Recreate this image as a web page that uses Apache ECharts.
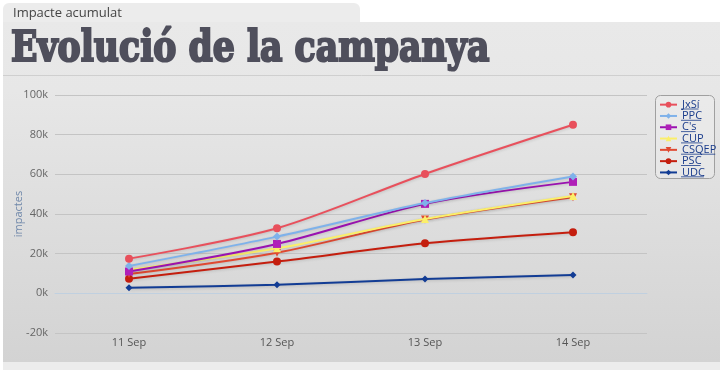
<!DOCTYPE html>
<html>
<head>
<meta charset="utf-8">
<script src="https://cdn.jsdelivr.net/npm/echarts@6/dist/echarts.min.js"></script>
<style>
html,body{margin:0;padding:0;background:#fff;}
#c{width:722px;height:370px;}
</style>
</head>
<body>
<div id="c"></div>
<script>
const categories = ['11 Sep', '12 Sep', '13 Sep', '14 Sep'];
const seriesNames = ['JxSí', 'PPC', "C's", 'CUP', 'CSQEP', 'PSC', 'UDC'];
const JxSi  = [17500, 32800, 60200, 85000];
const PPC   = [13800, 28600, 45500, 58900];
const Cs    = [11000, 24900, 45100, 56200];
const CUP   = [11800, 22700, 37500, 49100];
const CSQEP = [9700, 20500, 37200, 48500];
const PSC   = [7400, 16000, 25200, 30800];
const UDC   = [2800, 4300, 7200, 9200];
const yTicks = [-20000, 0, 20000, 40000, 60000, 80000, 100000];

const seriesData = [JxSi, PPC, Cs, CUP, CSQEP, PSC, UDC];
const colors = ['#e8505c', '#7fb2ea', '#9a12b0', '#fbef6a', '#e04a32', '#c41e0e', '#123c94'];
const markerColors = ['#e8505c', '#7fb2ea', '#b020b8', '#fbef6a', '#e04a32', '#c41e0e', '#123c94'];
const symbols = ['circle', 'diamond', 'rect', 'triangle', 'path://M0,0 L10,0 L5,10 Z', 'circle', 'diamond'];
const symbolSizes = [8, 8, 8, 8, 8, 8, 7];

const chart = echarts.init(document.getElementById('c'), null, {renderer: 'canvas'});

const series = seriesNames.map((n, i) => ({
  name: n,
  type: 'line',
  data: seriesData[i],
  smooth: 0.3,
  symbol: symbols[i],
  symbolSize: symbolSizes[i],
  showSymbol: true,
  lineStyle: {color: colors[i], width: 2, shadowColor: 'rgba(0,0,0,0.15)', shadowBlur: 3, shadowOffsetY: 1},
  itemStyle: {color: markerColors[i]},
  emphasis: {disabled: true},
  z: 10 - i
}));

const ctx = document.createElement('canvas').getContext('2d');
ctx.font = '11px "Open Sans", sans-serif';
const legendTextX = 681, legendTop0 = 99, legendStep = 11.3;
const underlines = seriesNames.map((n, i) => {
  const y = legendTop0 + i * legendStep + 10;
  return {
    type: 'line',
    shape: {x1: legendTextX, y1: y, x2: legendTextX + ctx.measureText(n).width, y2: y},
    style: {stroke: '#1a3c8c', lineWidth: 0.8},
    z: 100
  };
});

const titleText = 'Evolució de la campanya';
ctx.font = 'bold 42px "DejaVu Serif"';
const titleScale = 480 / (ctx.measureText(titleText).width + 2);

chart.setOption({
  animation: false,
  color: colors,
  graphic: [
    {type: 'rect', shape: {x: 3, y: 3, width: 357, height: 30, r: 6}, style: {fill: '#ececec'}, z: -10},
    {type: 'rect', shape: {x: 3, y: 22, width: 717, height: 340},
      style: {fill: new echarts.graphic.LinearGradient(0, 0, 0, 1, [
        {offset: 0, color: '#e9e9e9'}, {offset: 0.2, color: '#e7e7e7'}, {offset: 1, color: '#d3d3d3'}])}, z: -10},
    {type: 'line', shape: {x1: 3, y1: 75.5, x2: 720, y2: 75.5}, style: {stroke: '#cfcfcf', lineWidth: 1}, z: -9},
    {type: 'rect', shape: {x: 3, y: 362, width: 717, height: 8}, style: {fill: '#ececec'}, z: -10},
    {type: 'text', x: 13, y: 13, style: {text: 'Impacte acumulat', fontSize: 13, fontFamily: '"Open Sans", sans-serif', fill: '#444', verticalAlign: 'middle'}, z: 5},
    {type: 'text', x: 11, y: 50, scaleX: titleScale,
      style: {text: titleText, fontSize: 42, fontWeight: 'bold', fontFamily: '"DejaVu Serif", "Liberation Serif", serif',
        fill: '#4f4f5c', stroke: '#4f4f5c', lineWidth: 2.2, verticalAlign: 'middle'}, z: 5},
    {type: 'rect', shape: {x: 655.5, y: 95.5, width: 59, height: 83, r: 5}, style: {fill: 'rgba(240,240,240,0.4)', stroke: '#a0a0a0', lineWidth: 1}, z: 1}
  ].concat(underlines),
  legend: {
    orient: 'vertical',
    left: 659,
    top: legendTop0,
    itemWidth: 17,
    itemHeight: 7,
    itemGap: 0,
    padding: 0,
    selectedMode: false,
    textStyle: {color: '#1a3c8c', fontSize: 11, lineHeight: legendStep, fontFamily: '"Open Sans", sans-serif', padding: [0, 0, 0, 0]},
    data: seriesNames
  },
  grid: {left: 55, right: 75, top: 95, bottom: 37, containLabel: false},
  xAxis: {
    type: 'category',
    data: categories,
    boundaryGap: true,
    axisLine: {show: true, lineStyle: {color: '#c0d0e0', width: 1}},
    axisTick: {show: false},
    axisLabel: {color: '#555', fontSize: 11, fontFamily: '"Open Sans", sans-serif', margin: 4},
    splitLine: {show: false}
  },
  yAxis: {
    type: 'value',
    min: yTicks[0],
    max: yTicks[yTicks.length - 1],
    interval: 20000,
    name: 'impactes',
    nameLocation: 'middle',
    nameGap: 31,
    nameMoveOverlap: false,
    nameRotate: 90,
    nameTextStyle: {color: '#7088aa', fontSize: 11, fontFamily: '"Open Sans", sans-serif'},
    axisLine: {show: false},
    axisTick: {show: false},
    axisLabel: {color: '#666', fontSize: 11, fontFamily: '"Open Sans", sans-serif', margin: 7, formatter: v => (v / 1000) + 'k'},
    splitLine: {show: true, lineStyle: {color: '#c4c4c4', width: 1}}
  },
  series: series
});
</script>
</body>
</html>
